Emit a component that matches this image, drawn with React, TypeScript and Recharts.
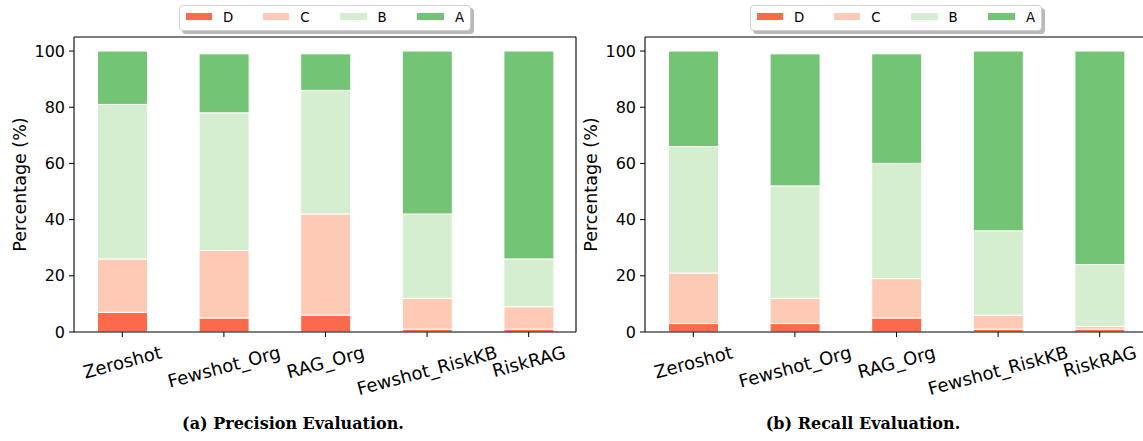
import React from 'react';
import { BarChart, Bar, XAxis, YAxis, Legend, Label } from 'recharts';

const categories = ['Zeroshot', 'Fewshot_Org', 'RAG_Org', 'Fewshot_RiskKB', 'RiskRAG'];

const precisionD = [7, 5, 6, 1, 1];
const precisionC = [19, 24, 36, 11, 8];
const precisionB = [55, 49, 44, 30, 17];
const precisionA = [19, 21, 13, 58, 74];

const recallD = [3, 3, 5, 1, 1];
const recallC = [18, 9, 14, 5, 1];
const recallB = [45, 40, 41, 30, 22];
const recallA = [34, 47, 39, 64, 76];

const yTicks = [0, 20, 40, 60, 80, 100];
const seriesKeys = ['D', 'C', 'B', 'A'];
const seriesColors: Record<string, string> = {
  D: '#fb6a4a',
  C: '#fdcab5',
  B: '#d4eecf',
  A: '#74c476',
};

function buildRows(d: number[], c: number[], b: number[], a: number[]) {
  return categories.map((name, i) => ({ name, D: d[i], C: c[i], B: b[i], A: a[i] }));
}

const precisionRows = buildRows(precisionD, precisionC, precisionB, precisionA);
const recallRows = buildRows(recallD, recallC, recallB, recallA);

let ctx: CanvasRenderingContext2D | null = null;
function measure(text: string, font: string): number {
  if (!ctx) {
    const c = document.createElement('canvas');
    ctx = c.getContext('2d');
  }
  if (!ctx) return text.length * 10;
  ctx.font = font;
  return ctx.measureText(text).width;
}

const X_FS = 18;
const ANGLE = 15;

function XTick(props: any) {
  const { x, y, payload } = props;
  const th = (ANGLE * Math.PI) / 180;
  const w = measure(String(payload.value), `${X_FS}px "DejaVu Sans"`);
  const h = X_FS * 1.164;
  const H = w * Math.sin(th) + h * Math.cos(th);
  const cy = y + 4.5 + H / 2;
  return (
    <text
      x={x}
      y={cy}
      textAnchor="middle"
      dominantBaseline="central"
      transform={`rotate(-${ANGLE} ${x} ${cy})`}
      fontSize={X_FS}
      fontFamily="DejaVu Sans"
      fill="#000"
    >
      {payload.value}
    </text>
  );
}

function YLabel(props: any) {
  const vb = props.viewBox || { x: 0, y: 37, width: 74, height: 295 };
  const cx = vb.x + 20;
  const cy = vb.y + vb.height / 2;
  return (
    <text
      x={cx}
      y={cy}
      textAnchor="middle"
      dominantBaseline="central"
      transform={`rotate(-90 ${cx} ${cy})`}
      fontSize={17.5}
      fontFamily="DejaVu Sans"
      fill="#000"
    >
      Percentage (%)
    </text>
  );
}

function LegendBox() {
  return (
    <div
      style={{
        position: 'relative',
        width: 292,
        height: 26,
        boxSizing: 'border-box',
        border: '1px solid #cfcfcf',
        borderRadius: 4,
        background: '#fff',
        boxShadow: '3px 3px 0 rgba(128,128,128,0.55)',
        fontFamily: 'DejaVu Sans',
        fontSize: 13.3,
        color: '#000',
      }}
    >
      {seriesKeys.map((k, i) => (
        <div key={k} style={{ position: 'absolute', left: 5.5 + i * 77.3, top: 0, height: 24 }}>
          <div
            style={{
              position: 'absolute',
              left: 0,
              top: 6.6,
              width: 26.7,
              height: 7.7,
              background: seriesColors[k],
            }}
          />
          <div style={{ position: 'absolute', left: 37.5, top: 3.5, lineHeight: '16px', whiteSpace: 'nowrap' }}>
            {k}
          </div>
        </div>
      ))}
    </div>
  );
}

function Panel({ rows }: { rows: any[] }) {
  return (
    <BarChart
      width={600}
      height={441}
      data={rows}
      margin={{ top: 36, right: 23, bottom: 0, left: 0 }}
      barSize={50}
    >
      <XAxis
        dataKey="name"
        height={109}
        tick={<XTick />}
        tickSize={5}
        tickMargin={0}
        interval={0}
        axisLine={{ stroke: '#000', strokeWidth: 1.1 }}
        tickLine={{ stroke: '#000' }}
        padding={{ left: -2.5, right: -3.5 }}
      />
      <XAxis
        xAxisId="top"
        dataKey="name"
        orientation="top"
        height={1}
        tick={false}
        tickLine={false}
        axisLine={{ stroke: '#000', strokeWidth: 1.1 }}
      />
      <YAxis
        width={74}
        domain={[0, 105]}
        ticks={yTicks}
        tickSize={5}
        tickMargin={4}
        allowDataOverflow
        axisLine={{ stroke: '#000', strokeWidth: 1.1 }}
        tickLine={{ stroke: '#000' }}
        tick={{ fill: '#000', fontSize: 16, fontFamily: 'DejaVu Sans' }}
      >
        <Label content={<YLabel />} />
      </YAxis>
      <YAxis
        yAxisId="right"
        orientation="right"
        width={1}
        domain={[0, 105]}
        tick={false}
        tickLine={false}
        axisLine={{ stroke: '#000', strokeWidth: 1.1 }}
      />
      <Legend
        layout="vertical"
        align="center"
        verticalAlign="middle"
        content={<LegendBox />}
        wrapperStyle={{ left: 179, top: 5, width: 292, height: 26 }}
      />
      {seriesKeys.map((k) => (
        <Bar
          key={k}
          dataKey={k}
          name={k}
          stackId="s"
          fill={seriesColors[k]}
          stroke="#ffffff"
          strokeWidth={1}
          isAnimationActive={false}
        />
      ))}
    </BarChart>
  );
}

const captionStyle: React.CSSProperties = {
  position: 'absolute',
  top: 414,
  width: 400,
  textAlign: 'center',
  fontFamily: '"DejaVu Serif"',
  fontWeight: 'bold',
  fontSize: 16,
  lineHeight: '20px',
  color: '#000',
  whiteSpace: 'nowrap',
};

export default function App() {
  return (
    <div
      style={{
        position: 'absolute',
        left: 0,
        top: 0,
        width: 1143,
        height: 441,
        overflow: 'hidden',
        background: '#fff',
      }}
    >
      <div style={{ position: 'absolute', left: 0, top: 0 }}>
        <Panel rows={precisionRows} />
      </div>
      <div style={{ position: 'absolute', left: 571, top: 0 }}>
        <Panel rows={recallRows} />
      </div>
      <div style={{ ...captionStyle, left: 293 - 200 }}>(a) Precision Evaluation.</div>
      <div style={{ ...captionStyle, left: 863 - 200 }}>(b) Recall Evaluation.</div>
    </div>
  );
}
